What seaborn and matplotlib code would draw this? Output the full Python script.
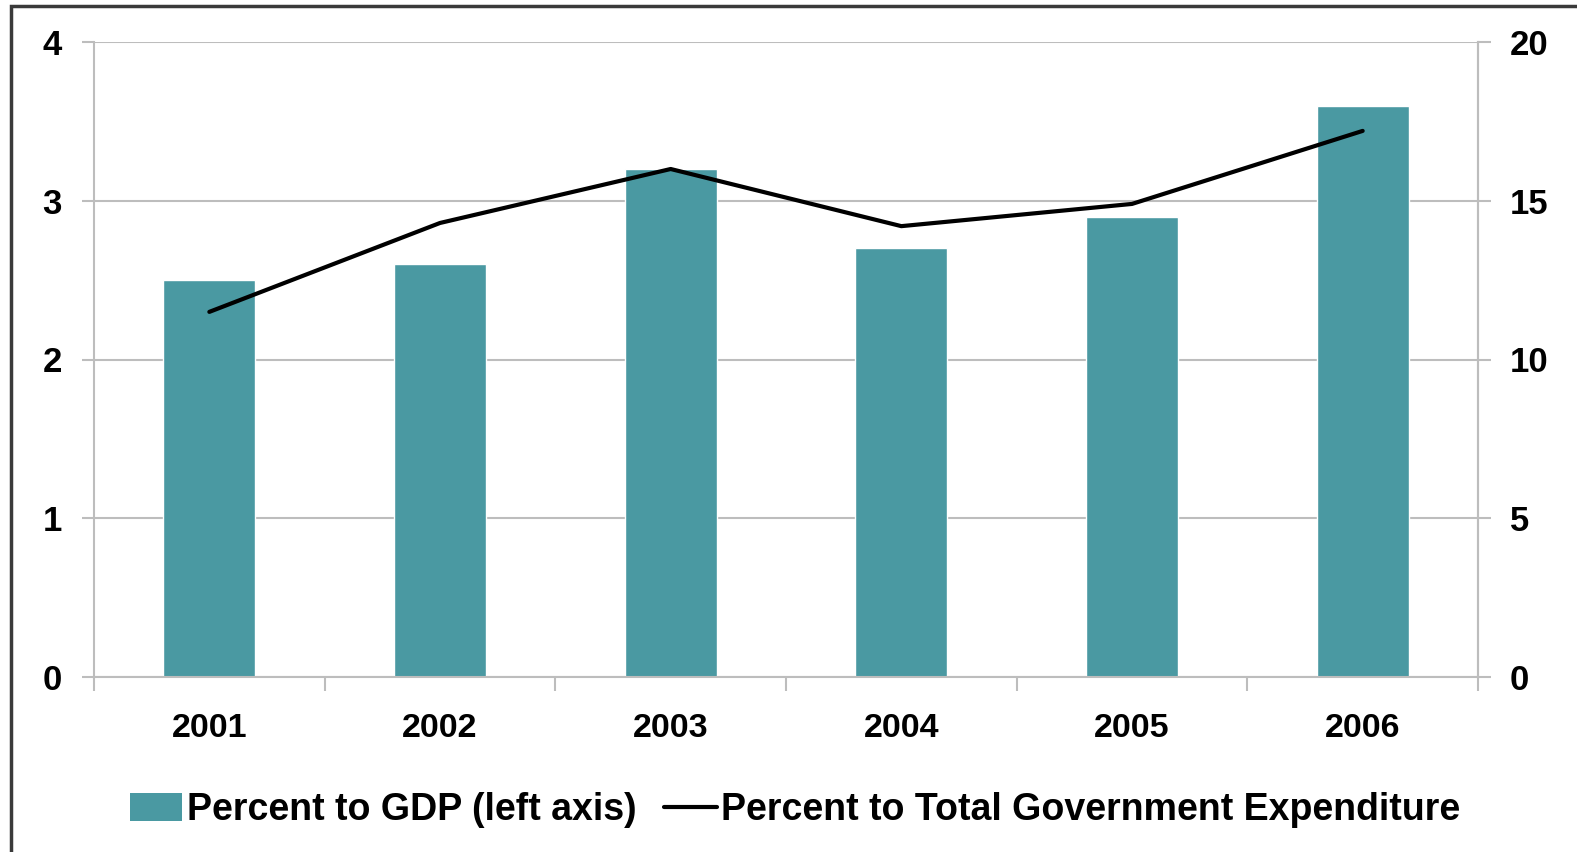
import numpy as np
import pandas as pd
import matplotlib
matplotlib.use("Agg")
import matplotlib.pyplot as plt
import seaborn as sns
from matplotlib.patches import Rectangle, Patch
from matplotlib.lines import Line2D

years = ["2001", "2002", "2003", "2004", "2005", "2006"]
pct_gdp = [2.5, 2.6, 3.2, 2.7, 2.9, 3.6]
pct_total_exp = [11.5, 14.3, 16.0, 14.2, 14.9, 17.2]
left_ticks = [0, 1, 2, 3, 4]
right_ticks = [0, 5, 10, 15, 20]
label_bar = "Percent to GDP (left axis)"
label_line = "Percent to Total Government Expenditure"

sns.set_theme(style="white")
plt.rcParams['font.family'] = ['Liberation Sans', 'DejaVu Sans']

TEAL = "#4A99A2"
GRID = "#BDBDBD"

df = pd.DataFrame({"year": years, "gdp": pct_gdp, "exp": pct_total_exp})

fig = plt.figure(figsize=(15.77, 8.52), dpi=100)
ax = fig.add_axes([94/1577, 1-677/852, (1478-94)/1577, (677-42)/852])

sns.barplot(data=df, x="year", y="gdp", color=TEAL, width=0.4, saturation=1,
            ax=ax, zorder=2)
ax.set_ylim(0, 4)
ax.set_yticks(left_ticks)
ax.set_xlim(-0.5, len(years) - 0.5)
ax.set_xlabel("")
ax.set_ylabel("")
ax.yaxis.grid(True, color=GRID, linewidth=1.5, zorder=0)
ax.set_axisbelow(True)
ax.spines["top"].set_visible(False)
for side in ["left", "right", "bottom"]:
    ax.spines[side].set_color(GRID)
    ax.spines[side].set_linewidth(1.5)

ax2 = ax.twinx()
sns.pointplot(data=df, x="year", y="exp", color="black", markers="",
              linestyles="-", linewidth=3.0, ax=ax2, errorbar=None)
ax2.set_ylim(0, 20)
ax2.set_yticks(right_ticks)
ax2.set_xlim(-0.5, len(years) - 0.5)
ax2.set_ylabel("")
ax2.set_xlabel("")
for side in ["top", "left", "bottom"]:
    ax2.spines[side].set_visible(False)
ax2.spines["right"].set_color(GRID)
ax2.spines["right"].set_linewidth(1.5)
ax2.grid(False)

# ticks
ax.tick_params(axis="y", which="major", left=True, direction="out", length=9,
               width=1.5, color=GRID, pad=14, labelsize=25)
ax2.tick_params(axis="y", which="major", right=True, direction="out", length=9,
                width=1.5, color=GRID, pad=14, labelsize=25)
ax.set_xticks(np.arange(-0.5, len(years)), minor=True)
ax.tick_params(axis="x", which="minor", bottom=True, direction="out", length=10,
               width=1.5, color=GRID)
ax.tick_params(axis="x", which="major", length=0, pad=26, labelsize=24.5)
for lab in ax.get_yticklabels() + ax2.get_yticklabels() + ax.get_xticklabels():
    lab.set_fontweight("bold")
    lab.set_color("black")

# legend
handles = [Patch(facecolor=TEAL, edgecolor="none", label=label_bar),
           Line2D([0], [0], color="black", linewidth=3.0, label=label_line)]
leg = fig.legend(handles=handles, loc="center", bbox_to_anchor=(795/1577, 1-810/852),
                 ncol=2, frameon=False, handlelength=1.4,
                 handleheight=0.75, handletextpad=0.12, columnspacing=0.75,
                 prop={"family": "Liberation Sans", "weight": "bold", "size": 27})
for t in leg.get_texts():
    t.set_color("black")

# outer frame
fig.patches.append(Rectangle((11/1577, -0.2), 1.2, 1.2 - 6/852,
                             transform=fig.transFigure, fill=False,
                             edgecolor="#3a3a3a", linewidth=2.5))

fig.savefig("out.png", dpi=100)
